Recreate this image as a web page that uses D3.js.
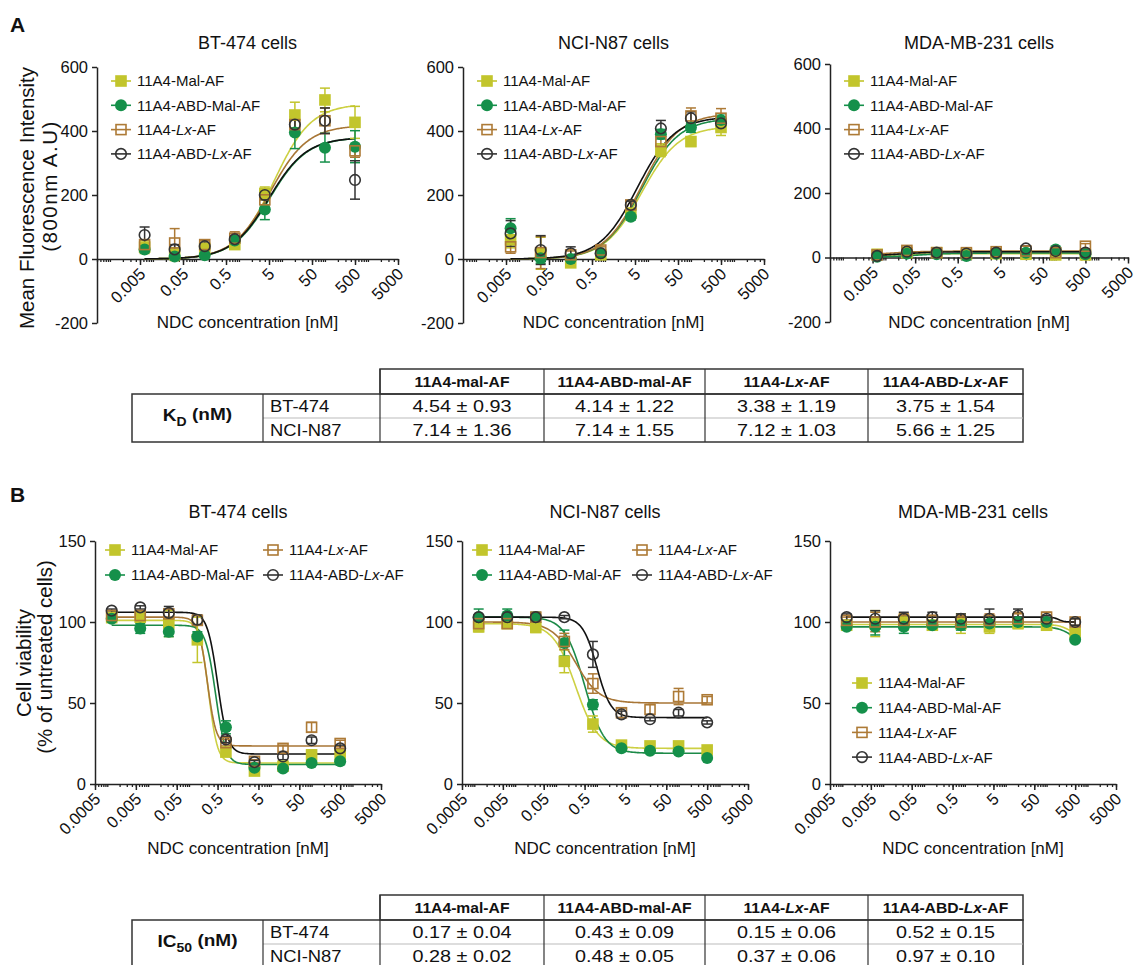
<!DOCTYPE html>
<html lang="en">
<head>
    <meta charset="UTF-8">
    <title>NDC binding and cytotoxicity</title>
    <script src="https://d3js.org/d3.v7.min.js"></script>
    <style>
        body { margin: 0; background: #fff; }
        text { font-family: "Liberation Sans", Arial, sans-serif; fill: #111; }
    </style>
</head>
<body>
    <div id="chart"></div>
    <script>
        // ---- data ----
        const seriesNames = ["11A4-Mal-AF", "11A4-ABD-Mal-AF", "11A4-Lx-AF", "11A4-ABD-Lx-AF"];
        const concA = [0.0064, 0.032, 0.16, 0.8, 4, 20, 100, 500];
        const concB = [0.00128, 0.0064, 0.032, 0.16, 0.8, 4, 20, 100, 500];
        const cellTitles = ["BT-474 cells", "NCI-N87 cells", "MDA-MB-231 cells"];

        const xTicksA = ["0.005", "0.05", "0.5", "5", "50", "500", "5000"];
        const xTicksB = ["0.0005", "0.005", "0.05", "0.5", "5", "50", "500", "5000"];
        const yTicksA = [-200, 0, 200, 400, 600];
        const yTicksB = [0, 50, 100, 150];

        // binding (panel A): mean fluorescence, error
        const bindBT = [
            [37, 15, 33, 45, 205, 450, 497, 427],
            [30, 8, 12, 58, 155, 395, 348, 351],
            [45, 50, 45, 65, 185, 420, 432, 338],
            [75, 30, 40, 62, 200, 420, 432, 247]
        ];
        const bindBTErr = [
            [20, 20, 12, 10, 20, 40, 37, 50],
            [10, 10, 8, 10, 32, 50, 45, 50],
            [15, 45, 12, 20, 20, 20, 40, 20],
            [25, 15, 10, 10, 15, 25, 40, 60]
        ];
        const bindN87 = [
            [60, 18, -12, 13, 143, 340, 367, 411],
            [96, 2, 0, 18, 132, 390, 411, 434],
            [38, 20, 13, 28, 169, 367, 447, 440],
            [80, 28, 18, 18, 169, 408, 440, 424]
        ];
        const bindN87Err = [
            [25, 50, 10, 8, 15, 20, 15, 25],
            [30, 15, 8, 8, 10, 15, 15, 20],
            [20, 50, 12, 10, 12, 20, 25, 30],
            [40, 45, 20, 8, 12, 25, 20, 20]
        ];
        const bindMDA = [
            [10, 15, 15, 10, 12, 10, 8, 8],
            [2, 12, 10, 5, 12, 15, 25, 10],
            [8, 22, 15, 15, 18, 20, 15, 35],
            [5, 18, 15, 12, 15, 28, 20, 15]
        ];
        const bindMDAErr = [
            [6, 8, 6, 5, 6, 6, 5, 5],
            [5, 6, 5, 5, 6, 6, 6, 5],
            [6, 10, 6, 6, 6, 6, 6, 8],
            [5, 8, 6, 5, 6, 8, 6, 6]
        ];

        // viability (panel B): % of untreated cells, error
        const viabBT = [
            [102.7, 103, 99, 89, 19.7, 8, 11, 18, 18],
            [102, 96, 94, 91, 35, 10, 9.5, 13, 14],
            [104, 104, 105, 101, 25.5, 14, 22, 35, 25],
            [107, 109, 105.6, 101.4, 27.5, 13.5, 17, 27, 22]
        ];
        const viabBTErr = [
            [2, 3, 8, 14, 2, 2, 2, 3, 3],
            [2, 3, 3, 3, 4, 1, 1, 1, 2],
            [2, 2, 3, 3, 2, 1, 2, 3, 2],
            [1, 1, 4, 3, 2, 1, 2, 2, 2]
        ];
        const viabN87 = [
            [97, 99, 96.6, 75.7, 37, 24, 23.5, 23.5, 21],
            [103, 104, 103, 87, 49, 22, 20.5, 20, 16],
            [99, 99, 103, 88, 62, 44, 46, 54, 52],
            [103, 103, 103, 103, 80, 43, 40, 44, 38]
        ];
        const viabN87Err = [
            [3, 2, 3, 7, 5, 2, 2, 2, 2],
            [5, 4, 3, 8, 3, 1, 1, 1, 1],
            [2, 2, 2, 5, 6, 3, 3, 5, 2],
            [1, 1, 1, 1, 8, 2, 1, 2, 1]
        ];
        const viabMDA = [
            [98, 99, 100, 98, 99, 97, 99, 98, 93],
            [97, 97, 97, 98, 98, 99, 100, 100, 89],
            [101, 100, 101, 101, 100, 101, 102, 103, 100],
            [103, 102, 102, 103, 102, 102, 104, 102, 100]
        ];
        const viabMDAErr = [
            [3, 8, 5, 3, 6, 4, 3, 3, 3],
            [2, 5, 4, 2, 3, 2, 2, 2, 1],
            [2, 6, 4, 3, 4, 4, 4, 3, 2],
            [2, 5, 4, 3, 3, 6, 4, 2, 2]
        ];

        // fitted curves: [bottom, top, ec50, hill] (hill < 0 = rising)
        const fitBindBT = [[0, 485, 6.5, -1], [0, 380, 5.2, -1], [0, 418, 5.3, -1], [0, 380, 5.0, -1]];
        const fitBindN87 = [[0, 415, 7.14, -1], [0, 440, 7.14, -1], [0, 455, 7.12, -1], [0, 445, 5.66, -1]];
        const fitBindMDA = [[5, 12, 0.02, -1], [0, 14, 0.05, -1], [5, 20, 0.01, -1], [3, 18, 0.02, -1]];
        const fitViabBT = [[13, 101, 0.3, 4], [12, 98, 0.45, 3.5], [23.5, 103, 0.28, 4], [18.5, 106, 0.5, 3.5]];
        const fitViabN87 = [[22, 99, 0.3, 1.6], [19, 103, 0.5, 1.8], [50, 100, 0.3, 1.5], [41, 103, 1.0, 2.5]];
        const fitViabMDA = [[90, 98.5, 400, 3], [85, 97, 450, 2.5], [100, 100, 1, 1], [100, 103, 200, 6]];

        // tables
        const tableHeaders = ["11A4-mal-AF", "11A4-ABD-mal-AF", "11A4-Lx-AF", "11A4-ABD-Lx-AF"];
        const tableRows = ["BT-474", "NCI-N87"];
        const kdMean = [[4.54, 4.14, 3.38, 3.75], [7.14, 7.14, 7.12, 5.66]];
        const kdSD = [[0.93, 1.22, 1.19, 1.54], [1.36, 1.55, 1.03, 1.25]];
        const ic50Mean = [[0.17, 0.43, 0.15, 0.52], [0.28, 0.48, 0.37, 0.97]];
        const ic50SD = [[0.04, 0.09, 0.06, 0.15], [0.02, 0.05, 0.06, 0.10]];

        // ---- styles ----
        const markerColor = ["#c2c52c", "#15904a", "#ad7a36", "#333333"];
        const lineColor = ["#cdd043", "#1c8a48", "#a87636", "#111111"];
        const markerShape = ["square", "circle", "square", "circle"];
        const markerFilled = [true, true, false, false];

        const svg = d3.select("#chart")
            .append("svg")
            .attr("width", 1139)
            .attr("height", 965);

        const fourPL = (p, x) => p[0] + (p[1] - p[0]) / (1 + Math.pow(x / p[2], p[3]));

        // writes a label, putting "Lx" in italics
        function richText(sel, str) {
            str.split(/(Lx)/).forEach(part => {
                if (!part) return;
                sel.append("tspan").text(part)
                    .style("font-style", part === "Lx" ? "italic" : null);
            });
        }

        function drawMarker(g, i, cx, cy) {
            const s = markerShape[i], filled = markerFilled[i];
            let m;
            if (s === "square") {
                const h = filled ? 5.8 : 5;
                m = g.append("rect").attr("x", cx - h).attr("y", cy - h)
                    .attr("width", 2 * h).attr("height", 2 * h);
            } else {
                m = g.append("circle").attr("cx", cx).attr("cy", cy)
                    .attr("r", filled ? 6 : 5.3);
            }
            m.attr("fill", filled ? markerColor[i] : "none")
                .attr("stroke", markerColor[i])
                .attr("stroke-width", filled ? 0 : 1.6);
        }

        function drawPlot(cfg) {
            const g = svg.append("g");
            const x = d3.scaleLog().domain([0.0005, 5000]).range([cfg.x0, cfg.x0 + cfg.w]);
            const y = d3.scaleLinear().domain(cfg.yDomain).range([cfg.yBot, cfg.yTop]);
            const yAxisAt = y(0);

            // title
            g.append("text")
                .attr("x", cfg.x0 + cfg.w / 2).attr("y", cfg.titleY)
                .attr("text-anchor", "middle").style("font-size", "18px")
                .text(cfg.title);

            // y axis
            g.append("g")
                .attr("transform", `translate(${cfg.x0},0)`)
                .call(d3.axisLeft(y).tickValues(cfg.yTicks).tickSize(5).tickSizeOuter(0).tickPadding(4)
                    .tickFormat(d => String(d)))
                .call(a => a.selectAll("path,line").attr("stroke", "#222").attr("stroke-width", 1.5))
                .call(a => a.selectAll("text").style("font-size", "16.5px").attr("fill", "#111")
                    .style("font-family", "'Liberation Sans', Arial, sans-serif"));

            // x axis: minor ticks
            const minor = [];
            for (let e = -4; e <= 3; e++) {
                for (let k = 1; k <= 9; k++) {
                    const v = k * Math.pow(10, e);
                    if (v >= 0.0005 && v <= 5000) minor.push(v);
                }
            }
            g.append("g")
                .attr("transform", `translate(0,${yAxisAt})`)
                .call(d3.axisBottom(x).tickValues(minor).tickSize(3).tickSizeOuter(0).tickFormat(""))
                .call(a => a.selectAll("path,line").attr("stroke", "#222").attr("stroke-width", 1.3));

            // x axis: labelled ticks
            const labVals = cfg.xTicks.map(Number);
            g.append("g")
                .attr("transform", `translate(0,${yAxisAt})`)
                .call(d3.axisBottom(x).tickValues(labVals).tickSize(6).tickSizeOuter(0)
                    .tickFormat((d, i) => cfg.xTicks[i]))
                .call(a => a.select(".domain").remove())
                .call(a => a.selectAll("line").attr("stroke", "#222").attr("stroke-width", 1.5))
                .call(a => a.selectAll("text")
                    .attr("x", null).attr("y", null).attr("dy", "0.35em")
                    .attr("transform", "translate(2,12) rotate(-45)")
                    .style("text-anchor", "end").style("font-size", "16.5px").attr("fill", "#111")
                    .style("font-family", "'Liberation Sans', Arial, sans-serif"));

            // x label
            g.append("text")
                .attr("x", cfg.x0 + cfg.w / 2).attr("y", cfg.xLabelY)
                .attr("text-anchor", "middle").style("font-size", "17px")
                .text("NDC concentration [nM]");

            // fit curves
            const line = d3.line().x(d => x(d[0])).y(d => y(d[1]));
            cfg.fits.forEach((p, i) => {
                const lo = Math.log10(cfg.conc[0]), hi = Math.log10(cfg.conc[cfg.conc.length - 1]);
                const pts = d3.range(0, 201).map(k => {
                    const c = Math.pow(10, lo + (hi - lo) * k / 200);
                    return [c, fourPL(p, c)];
                });
                g.append("path").datum(pts)
                    .attr("fill", "none").attr("stroke", lineColor[i]).attr("stroke-width", 1.6)
                    .attr("d", line);
            });

            // error bars
            cfg.values.forEach((vals, i) => {
                const eg = g.append("g").attr("stroke", markerColor[i]).attr("stroke-width", 1.5);
                vals.forEach((v, j) => {
                    const cx = x(cfg.conc[j]), e = cfg.errors[i][j];
                    const y1 = y(v - e), y2 = y(v + e);
                    eg.append("line").attr("x1", cx).attr("x2", cx).attr("y1", y1).attr("y2", y2);
                    eg.append("line").attr("x1", cx - 5).attr("x2", cx + 5).attr("y1", y1).attr("y2", y1);
                    eg.append("line").attr("x1", cx - 5).attr("x2", cx + 5).attr("y1", y2).attr("y2", y2);
                });
            });

            // markers
            cfg.values.forEach((vals, i) => {
                const mg = g.append("g");
                vals.forEach((v, j) => drawMarker(mg, i, x(cfg.conc[j]), y(v)));
            });

            // legend
            const lg = g.append("g");
            cfg.legend.forEach((pos, i) => {
                const [mx, my] = pos;
                lg.append("line").attr("x1", mx - 10).attr("x2", mx + 10).attr("y1", my).attr("y2", my)
                    .attr("stroke", markerColor[i]).attr("stroke-width", 1.6);
                drawMarker(lg, i, mx, my);
                const t = lg.append("text").attr("x", mx + 16).attr("y", my).attr("dy", "0.36em")
                    .style("font-size", "15px");
                richText(t, seriesNames[i]);
            });
        }

        // ---- panel A ----
        const plotX = [97, 463, 830];
        const plotW = [301, 301, 298];
        const legendVert = (mx, my, dy) => seriesNames.map((d, i) => [mx, my + i * dy]);
        const bindSets = [
            [bindBT, bindBTErr, fitBindBT],
            [bindN87, bindN87Err, fitBindN87],
            [bindMDA, bindMDAErr, fitBindMDA]
        ];
        const aTops = [67, 67, 64];
        const aBots = [323, 323, 322];
        bindSets.forEach((s, k) => {
            drawPlot({
                x0: plotX[k], w: plotW[k], yTop: aTops[k], yBot: aBots[k], yDomain: [-200, 600],
                yTicks: yTicksA, xTicks: xTicksA, title: cellTitles[k], titleY: 49, xLabelY: 328,
                conc: concA, values: s[0], errors: s[1], fits: s[2],
                legend: legendVert(plotX[k] + 24, 81, 24.3)
            });
        });

        // ---- panel B ----
        const plotXB = [95, 462, 830];
        const viabSets = [
            [viabBT, viabBTErr, fitViabBT],
            [viabN87, viabN87Err, fitViabN87],
            [viabMDA, viabMDAErr, fitViabMDA]
        ];
        const legendsB = [
            [[115, 550], [115, 575], [273, 550], [273, 575]],
            [[482, 550], [482, 575], [642, 550], [642, 575]],
            legendVert(862, 683, 24.7)
        ];
        viabSets.forEach((s, k) => {
            drawPlot({
                x0: plotXB[k], w: 286, yTop: 541, yBot: 784, yDomain: [0, 150],
                yTicks: yTicksB, xTicks: xTicksB, title: cellTitles[k], titleY: 518, xLabelY: 854,
                conc: concB, values: s[0], errors: s[1], fits: s[2],
                legend: legendsB[k]
            });
        });

        // panel letters and y labels
        svg.append("text").attr("x", 10).attr("y", 32).style("font-size", "21px").style("font-weight", "bold").text("A");
        svg.append("text").attr("x", 10).attr("y", 502).style("font-size", "21px").style("font-weight", "bold").text("B");

        function yLabel(cx, cy, str, spacing) {
            svg.append("text")
                .attr("transform", `translate(${cx},${cy}) rotate(-90)`)
                .attr("text-anchor", "middle").attr("dy", "0.35em")
                .style("font-size", "20.5px").style("letter-spacing", spacing || null).text(str);
        }
        yLabel(27, 198, "Mean Fluorescence Intensity");
        yLabel(50, 186, "(800nm A.U)", "1.5px");
        yLabel(24, 663, "Cell viability");
        yLabel(45, 657, "(% of untreated cells)");

        // ---- tables ----
        const colX = [380, 544, 705, 868, 1023];
        const fmt = d3.format(".2f");

        // text stretched horizontally, like the table lettering in the figure
        function wideText(g, x, y, sx) {
            return g.append("text").attr("transform", `translate(${x},${y}) scale(${sx},1)`);
        }

        function drawTable(top, mainLabel, subLabel, means, sds) {
            const g = svg.append("g");
            const hH = 25, rH = 24;
            const bodyTop = top + hH, bodyBot = top + hH + 2 * rH;
            const dark = "#333";

            // header cells
            g.append("rect").attr("x", colX[0]).attr("y", top)
                .attr("width", colX[4] - colX[0]).attr("height", hH)
                .attr("fill", "none").attr("stroke", dark).attr("stroke-width", 1.5);
            // body
            g.append("rect").attr("x", 132).attr("y", bodyTop)
                .attr("width", colX[4] - 132).attr("height", 2 * rH)
                .attr("fill", "none").attr("stroke", dark).attr("stroke-width", 1.5);
            // row divider
            g.append("line").attr("x1", 263).attr("x2", colX[4])
                .attr("y1", bodyTop + rH).attr("y2", bodyTop + rH)
                .attr("stroke", "#bbb").attr("stroke-width", 1.2);
            // column dividers
            g.append("line").attr("x1", 263).attr("x2", 263).attr("y1", bodyTop).attr("y2", bodyBot)
                .attr("stroke", dark).attr("stroke-width", 1.2);
            g.selectAll("line.col").data(colX.slice(0, 4)).join("line").attr("class", "col")
                .attr("x1", d => d).attr("x2", d => d).attr("y1", top).attr("y2", bodyBot)
                .attr("stroke", dark).attr("stroke-width", 1.2);

            // header text
            tableHeaders.forEach((h, i) => {
                const t = wideText(g, (colX[i] + colX[i + 1]) / 2, top + hH / 2, 1.12)
                    .attr("dy", "0.36em")
                    .attr("text-anchor", "middle").style("font-size", "14px").style("font-weight", "bold");
                richText(t, h);
            });

            // row labels and values
            tableRows.forEach((r, ri) => {
                const cy = bodyTop + rH * ri + rH / 2;
                wideText(g, 270, cy, 1.15).attr("dy", "0.36em")
                    .style("font-size", "16px").text(r);
                means[ri].forEach((m, ci) => {
                    wideText(g, (colX[ci] + colX[ci + 1]) / 2, cy, 1.2).attr("dy", "0.36em")
                        .attr("text-anchor", "middle").style("font-size", "16.5px")
                        .text(`${fmt(m)} \u00b1 ${fmt(sds[ri][ci])}`);
                });
            });

            // merged label cell
            const lt = wideText(g, (132 + 263) / 2, bodyTop + rH, 1.12).attr("dy", "0.15em")
                .attr("text-anchor", "middle").style("font-size", "17px").style("font-weight", "bold");
            lt.append("tspan").text(mainLabel);
            lt.append("tspan").attr("dy", "0.4em").style("font-size", "12.5px").text(subLabel);
            lt.append("tspan").attr("dy", "-0.35em").text(" (nM)");
        }

        drawTable(369, "K", "D", kdMean, kdSD);
        drawTable(895, "IC", "50", ic50Mean, ic50SD);
    </script>
</body>
</html>
